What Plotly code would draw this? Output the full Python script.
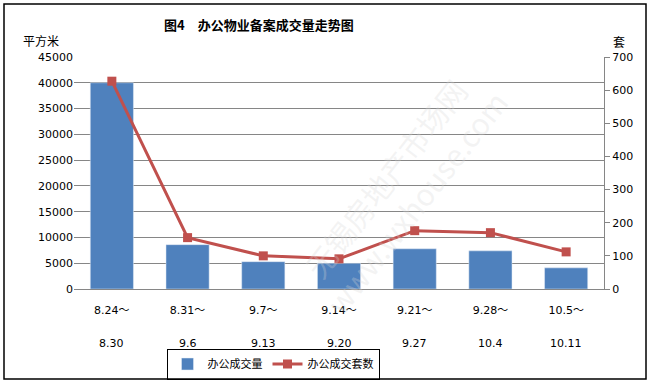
import plotly.graph_objects as go

periods_start = ["8.24～", "8.31～", "9.7～", "9.14～", "9.21～", "9.28～", "10.5～"]
periods_end = ["8.30", "9.6", "9.13", "9.20", "9.27", "10.4", "10.11"]
area_sqm = [40000, 8600, 5300, 5000, 7800, 7400, 4100]
units = [627, 155, 100, 91, 176, 170, 112]
left_ticks = list(range(0, 45001, 5000))
right_ticks = list(range(0, 701, 100))

x = list(range(len(periods_start)))

L, R, T, B = 74, 46, 57, 94
W, H = 650, 383
PW, PH = W - L - R, H - T - B


def px(xp):
    return (xp - L) / PW


def py(yp):
    return (H - B - yp) / PH


font_lat = "DejaVu Sans, Noto Sans CJK SC"
fig = go.Figure()
fig.add_trace(go.Bar(x=x, y=area_sqm, name="办公成交量", marker_color="#4F81BD",
                     width=0.57, yaxis="y"))
fig.add_trace(go.Scatter(x=x, y=units, name="办公成交套数", yaxis="y2",
                         mode="lines+markers",
                         line=dict(color="#C0504D", width=3),
                         marker=dict(symbol="square", size=9, color="#C0504D")))

fig.update_layout(
    width=W, height=H,
    margin=dict(l=L, r=R, t=T, b=B, autoexpand=False),
    paper_bgcolor="white", plot_bgcolor="white",
    font=dict(family=font_lat, size=11, color="black"),
    showlegend=True,
    legend=dict(orientation="h", x=px(273), xanchor="center", y=py(364), yanchor="middle",
                bordercolor="black", borderwidth=1, font=dict(size=11, family="Noto Sans CJK SC"),
                itemwidth=30, tracegroupgap=0, valign="middle", bgcolor="rgba(255,255,255,0)"),
    xaxis=dict(tickmode="array", tickvals=x, ticktext=periods_start, range=[-0.5, 6.5],
               showgrid=False, showline=True, linecolor="#868686", ticks="",
               tickfont=dict(size=11), automargin=False, ticklabelstandoff=11),
    yaxis=dict(range=[0, 45000], tickvals=left_ticks, ticktext=[str(v) for v in left_ticks],
               showgrid=True, gridcolor="#868686",
               gridwidth=1, zeroline=False, showline=False, ticks="", ticklen=0,
               tickfont=dict(size=11), ticksuffix="   ", automargin=False),
    yaxis2=dict(range=[0, 700], tickvals=right_ticks, ticktext=[str(v) for v in right_ticks],
                overlaying="y", side="right",
                showgrid=False, zeroline=False, showline=True, linecolor="#868686",
                ticks="outside", ticklen=5, tickcolor="#868686", tickfont=dict(size=11),
                automargin=False),
    bargap=0.43,
)

for xi, lab in zip(x, periods_end):
    fig.add_annotation(text=lab, x=xi, xref="x", y=py(343), yref="paper",
                       showarrow=False, xanchor="center", yanchor="middle",
                       font=dict(size=11))

fig.add_annotation(text="<b>图4　办公物业备案成交量走势图</b>", xref="paper", yref="paper",
                   x=px(259), y=py(25), xanchor="center", yanchor="middle", showarrow=False,
                   font=dict(family="Noto Sans CJK SC", size=13))
fig.add_annotation(text="平方米", xref="paper", yref="paper", x=px(41),
                   y=py(40), showarrow=False, xanchor="center", yanchor="middle",
                   font=dict(family="Noto Sans CJK SC", size=12))
fig.add_annotation(text="套", xref="paper", yref="paper", x=px(619),
                   y=py(42), showarrow=False, xanchor="center", yanchor="middle",
                   font=dict(family="Noto Sans CJK SC", size=12))
fig.add_annotation(text="无锡房地产市场网<br>www.wxhouse.com", xref="paper", yref="paper",
                   x=px(400), y=py(190), showarrow=False,
                   textangle=-52, font=dict(family="Noto Sans CJK SC", size=30,
                                            color="rgba(215,215,215,0.3)"))

fig.add_shape(type="rect", xref="paper", yref="paper",
              x0=px(4), x1=px(646), y0=py(379), y1=py(4),
              line=dict(color="black", width=1.5), fillcolor="rgba(0,0,0,0)", layer="above")

fig.write_html("out.html", config={"displayModeBar": False},
               post_script="document.body.style.margin='0';document.documentElement.style.overflow='hidden';")
